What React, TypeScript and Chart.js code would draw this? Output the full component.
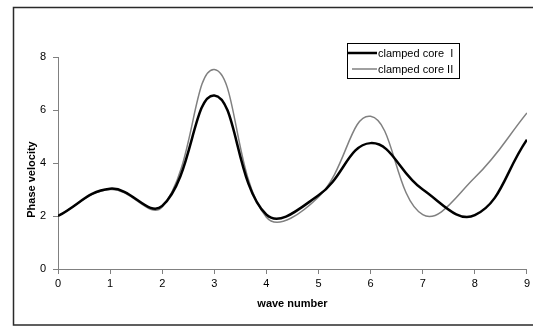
import React, { useEffect, useRef } from "react";
import { Chart, registerables } from "chart.js";

Chart.register(...registerables);

const waveNumbers = [0, 1, 2, 3, 4, 5, 6, 7, 8, 9];
const clampedCoreI = [2.0, 3.03, 2.38, 6.55, 2.05, 2.78, 4.75, 3.0, 2.03, 4.88];
const clampedCoreII = [2.0, 3.0, 2.34, 7.53, 1.95, 2.72, 5.76, 2.05, 3.45, 5.89];
const seriesNames = ["clamped core  I", "clamped core II"];
const xTitle = "wave number";
const yTitle = "Phase velocity";

const FONT = "'Liberation Sans', Arial, sans-serif";

const decorPlugin = {
  id: "decor",
  beforeDraw(chart: any) {
    const ctx = chart.ctx;
    ctx.save();
    ctx.strokeStyle = "#2a2a2a";
    ctx.lineWidth = 1.5;
    ctx.strokeRect(13.5, 7.5, 540, 317.5);
    ctx.restore();
  },
  afterDraw(chart: any) {
    const ctx = chart.ctx;
    ctx.save();
    ctx.translate(32, 179.5);
    ctx.rotate(-Math.PI / 2);
    ctx.font = `bold 11px ${FONT}`;
    ctx.fillStyle = "#000";
    ctx.textAlign = "center";
    ctx.textBaseline = "middle";
    ctx.fillText(yTitle, 0, 0);
    ctx.restore();

    ctx.save();
    ctx.strokeStyle = "#000";
    ctx.lineWidth = 1;
    ctx.strokeRect(347.5, 43.5, 112, 35);
    const rows = [
      { name: seriesNames[0], color: "#000", width: 2.5, y: 53, x0: 348 },
      { name: seriesNames[1], color: "#808080", width: 1.5, y: 69, x0: 352 },
    ];
    ctx.font = `11px ${FONT}`;
    ctx.textBaseline = "middle";
    ctx.textAlign = "left";
    for (const r of rows) {
      ctx.beginPath();
      ctx.strokeStyle = r.color;
      ctx.lineWidth = r.width;
      ctx.moveTo(r.x0, r.y);
      ctx.lineTo(377, r.y);
      ctx.stroke();
      ctx.fillStyle = "#000";
      ctx.fillText(r.name, 378, r.y + 0.5);
    }
    ctx.restore();
  },
};

export default function App() {
  const ref = useRef<HTMLCanvasElement | null>(null);

  useEffect(() => {
    document.body.style.margin = "0";
    const canvas = ref.current!;
    const chart = new Chart(canvas, {
      type: "line",
      data: {
        datasets: [
          {
            label: seriesNames[0],
            data: waveNumbers.map((x, i) => ({ x, y: clampedCoreI[i] })),
            borderColor: "#000000",
            borderWidth: 2.5,
            pointRadius: 0,
            tension: 0.42,
            fill: false,
          },
          {
            label: seriesNames[1],
            data: waveNumbers.map((x, i) => ({ x, y: clampedCoreII[i] })),
            borderColor: "#808080",
            borderWidth: 1.5,
            pointRadius: 0,
            tension: 0.42,
            fill: false,
          },
        ],
      },
      options: {
        animation: false,
        responsive: false,
        devicePixelRatio: 1,
        layout: { padding: { left: 0, top: 57, right: 6, bottom: 0 } },
        plugins: {
          legend: { display: false },
          tooltip: { enabled: false },
        },
        scales: {
          x: {
            type: "linear",
            min: 0,
            max: 9,
            afterFit: (s: any) => {
              s.height = 58;
            },
            ticks: {
              stepSize: 1,
              color: "#000",
              font: { family: FONT, size: 11 },
              padding: 3,
              maxRotation: 0,
            },
            grid: {
              drawOnChartArea: false,
              tickLength: 5,
              color: "#808080",
            },
            border: { color: "#808080", width: 1 },
            title: {
              display: true,
              text: xTitle,
              color: "#000",
              font: { family: FONT, size: 11, weight: "bold" },
              padding: { top: 0, bottom: 16.4 },
            },
          },
          y: {
            min: 0,
            max: 8,
            afterFit: (s: any) => {
              s.width = 58;
            },
            ticks: {
              stepSize: 2,
              color: "#000",
              font: { family: FONT, size: 11 },
              padding: 7,
            },
            grid: {
              drawOnChartArea: false,
              tickLength: 5,
              color: "#808080",
            },
            border: { color: "#808080", width: 1 },
          },
        },
      },
      plugins: [decorPlugin],
    });
    return () => chart.destroy();
  }, []);

  return (
    <div style={{ width: 533, height: 327 }}>
      <canvas ref={ref} width={533} height={327} style={{ display: "block" }} />
    </div>
  );
}
